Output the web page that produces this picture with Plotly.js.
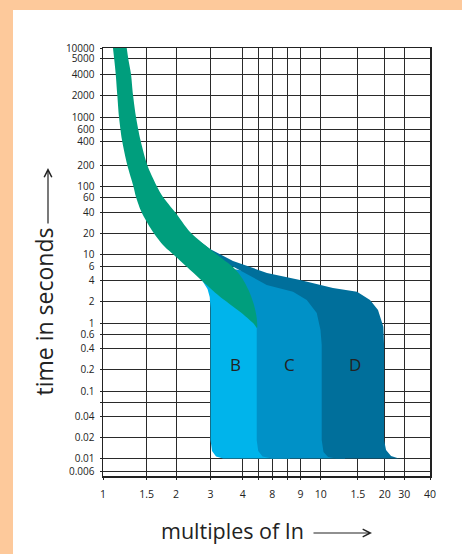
<!DOCTYPE html>
<html><head><meta charset="utf-8">
<script src="https://cdn.plot.ly/plotly-3.0.1.min.js"></script>
<style>
html,body{margin:0;padding:0;background:#FDC99B;width:462px;height:554px;overflow:hidden}
#chart{position:absolute;left:13px;top:10px;width:449px;height:544px;background:#fff}
</style></head><body><div id="chart"></div>
<script>
// ---- axis ticks (values on a log scale) ----
const xTickVals = [1, 1.637, 2.279, 3.363, 4.836, 5.761, 6.753, 7.998, 9.294, 11.66, 17.72, 24.03, 29.94, 40];
const xTickText = ["1", "1.5", "2", "3", "4", "", "8", "", "9", "10", "1.5", "20", "30", "40"];
const yTickVals = [10000, 6908, 4128, 1989, 971, 655, 427, 193, 96.2, 65.8, 39.7, 19.6, 9.54, 6.45, 4.03, 1.988, 0.948, 0.640, 0.403, 0.199, 0.0962, 0.0656, 0.0415, 0.0205, 0.01, 0.00643];
const yTickText = ["10000", "5000", "4000", "2000", "1000", "600", "400", "200", "100", "60", "40", "20", "10", "6", "4", "2", "1", "0.6", "0.4", "0.2", "0.1", "", "0.04", "0.02", "0.01", "0.006"];

// ---- thermal band (green) ----
const thermalX = [1.119, 1.136, 1.154, 1.175, 1.198, 1.239, 1.315, 1.408, 1.451, 1.544, 1.732, 1.968, 2.253, 2.580, 2.987, 3.743, 4.690, 5.450, 5.681,
                  5.663, 5.494, 5.191, 4.797, 4.334, 3.743, 3.160, 2.669, 2.253, 1.968, 1.833, 1.648, 1.526, 1.451, 1.403, 1.371, 1.333, 1.307];
const thermalY = [10000, 6676, 4169, 2057, 981, 452, 195, 96.2, 66.5, 40.1, 21.9, 13.2, 9.13, 6.30, 4.21, 2.32, 1.40, 0.948, 0.810,
                  1.133, 1.755, 2.81, 4.35, 6.30, 8.83, 13.2, 20.5, 40.1, 66.5, 96.2, 195, 452, 981, 2057, 4169, 6676, 10000];

// ---- curve B ----
const curveBX = [2.987, 3.125, 3.251, 3.333, 3.363, 3.363, 3.421, 3.579, 3.873, 8.243, 8.243, 5.877, 4.19];
const curveBY = [4.50, 3.68, 3.01, 2.30, 1.587, 0.01868, 0.0129, 0.01072, 0.01, 0.01, 0.757, 2.08, 3.44];

// ---- curve C ----
const curveCX = [5.663, 5.663, 5.761, 6.047, 6.709, 15.34, 15.34, 12.95, 8.243, 5.25, 4.097, 4.962, 5.37];
const curveCY = [0.991, 0.01868, 0.0129, 0.01072, 0.01, 0.01, 0.757, 2.72, 3.56, 5.33, 6.10, 2.08, 1.254];

// ---- curve D ----
const curveDX = [2.921, 3.344, 4.334, 6.36, 9.23, 13.39, 17.56, 20.33, 22.25, 23.63, 23.82, 23.82, 24.36, 25.77, 27.89, 29.85,
                 13.96, 12.66, 12.03, 11.79, 11.79, 11.63, 11.15, 9.96, 8.53, 6.34, 4.349, 3.344, 2.856];
const curveDY = [15.6, 11.55, 7.72, 5.15, 4.07, 3.11, 2.75, 2.08, 1.48, 0.846, 0.457, 0.01868, 0.01335, 0.01091, 0.01013, 0.01,
                 0.01, 0.01055, 0.01248, 0.01868, 0.457, 0.757, 1.341, 2.08, 2.75, 3.44, 6.37, 7.46, 11.17];

// ---- region labels ----
const labelText = ["B", "C", "D"];
const labelX = [4.433, 8.243, 17.17];
const labelY = [0.233, 0.233, 0.233];

const FONT = "Open Sans, Noto Sans, sans-serif";
const INK = "#222222";

function region(x, y, color, shape) {
  return {x: x, y: y, type: "scatter", mode: "lines", fill: "toself", fillcolor: color,
          line: {width: 0, color: color, shape: shape || "linear", smoothing: 0.8}, hoverinfo: "skip", showlegend: false};
}

const data = [
  region(curveBX, curveBY, "#00B4EB"),
  region(curveCX, curveCY, "#0091C7"),
  region(curveDX, curveDY, "#006F9B"),
  region(thermalX, thermalY, "#009E7D", "spline")
];

const annotations = labelText.map((t, i) => ({
  x: Math.log10(labelX[i]), y: Math.log10(labelY[i]), xref: "x", yref: "y", text: t, showarrow: false,
  xanchor: "center", yanchor: "middle",
  font: {family: FONT, size: 17, color: INK}
}));

annotations.push(
  {xref: "paper", yref: "paper", x: 0.396, y: -0.1262, xanchor: "center", yanchor: "middle",
   text: "multiples of In", showarrow: false,
   font: {family: FONT, size: 21.5, color: INK}},
  {xref: "paper", yref: "paper", x: 0.8226, y: -0.1332, text: "", showarrow: true, ax: -60, ay: 0,
   arrowhead: 5, arrowsize: 1.25, arrowwidth: 1.2, arrowcolor: INK, standoff: 0},
  {xref: "paper", yref: "paper", x: -0.1804, y: 0.3843, xanchor: "center", yanchor: "middle",
   text: "time in seconds", textangle: -90, showarrow: false,
   font: {family: FONT, size: 23, color: INK}},
  {xref: "paper", yref: "paper", x: -0.1682, y: 0.7196, text: "", showarrow: true, ax: 0, ay: 57,
   arrowhead: 5, arrowsize: 1.25, arrowwidth: 1.2, arrowcolor: INK, standoff: 0}
);

const axisCommon = {
  type: "log", showgrid: true, gridcolor: "#2a2a2a", gridwidth: 1, zeroline: false,
  showline: true, mirror: true, linecolor: INK, linewidth: 1.5,
  ticks: "outside", ticklen: 2, tickcolor: INK, tickmode: "array",
  tickfont: {family: FONT, size: 10, color: INK}, fixedrange: true
};

const layout = {
  width: 449, height: 544,
  margin: {l: 90, r: 32, t: 38, b: 78, pad: 0},
  paper_bgcolor: "#ffffff", plot_bgcolor: "#ffffff",
  showlegend: false,
  xaxis: Object.assign({}, axisCommon, {range: [0, Math.log10(40)], tickvals: xTickVals, ticktext: xTickText, ticklabelstandoff: 6,
                                        tickfont: {family: FONT, size: 10.5, color: INK}}),
  yaxis: Object.assign({}, axisCommon, {range: [-2.255, 4], tickvals: yTickVals, ticktext: yTickText, ticklabelstandoff: 3}),
  annotations: annotations
};

Plotly.newPlot("chart", data, layout, {staticPlot: true, displayModeBar: false});
</script></body></html>
